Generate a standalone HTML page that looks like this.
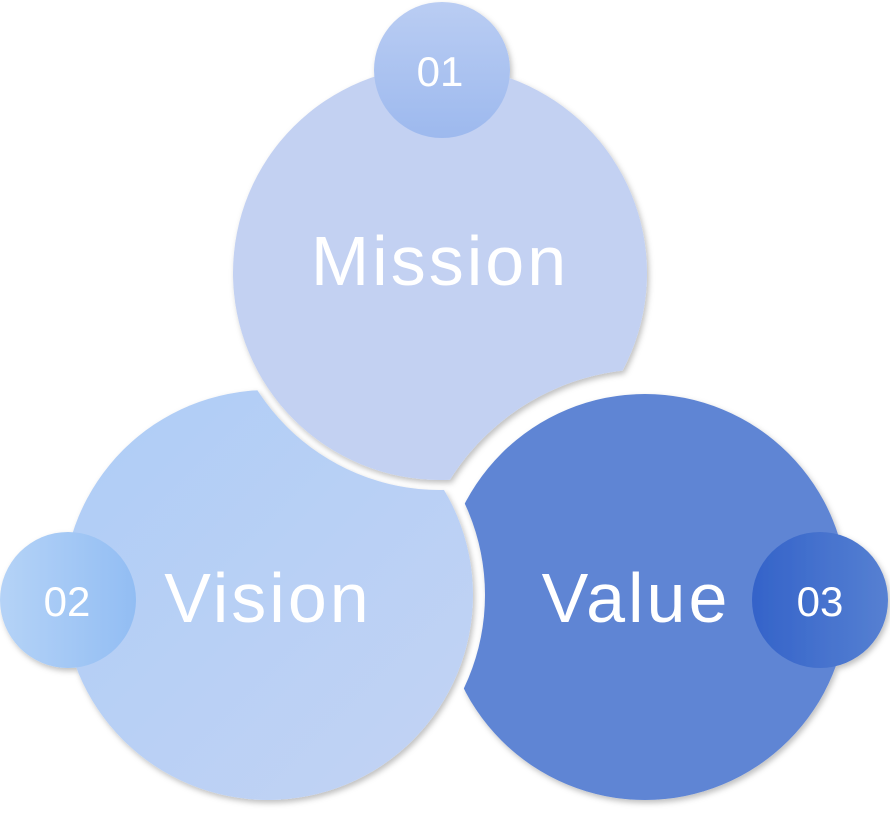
<!DOCTYPE html>
<html><head><meta charset="utf-8"><style>
html,body{margin:0;padding:0;background:#fff;width:890px;height:816px;overflow:hidden}
svg{display:block}
text{font-family:"Liberation Sans",sans-serif;fill:#fff}
</style></head><body>
<svg width="890" height="816" viewBox="0 0 890 816">
<defs>
<filter id="sh" x="-20%" y="-20%" width="140%" height="140%"><feDropShadow dx="2" dy="3" stdDeviation="3" flood-color="#000" flood-opacity="0.25"/></filter>
<linearGradient id="gv" x1="0" y1="0" x2="1" y2="1"><stop offset="0" stop-color="#aecdf6"/><stop offset="1" stop-color="#c3d3f4"/></linearGradient>
<linearGradient id="g2" x1="0" y1="0" x2="1" y2="0"><stop offset="0" stop-color="#b5d3f7"/><stop offset="1" stop-color="#92bdf3"/></linearGradient>
<linearGradient id="g1" x1="0" y1="0" x2="0" y2="1"><stop offset="0" stop-color="#bacdf3"/><stop offset="1" stop-color="#9db9ee"/></linearGradient>
<linearGradient id="g3" x1="0" y1="0" x2="1" y2="0"><stop offset="0" stop-color="#3463c9"/><stop offset="1" stop-color="#5680d2"/></linearGradient>
<mask id="mM"><rect width="890" height="816" fill="#fff"/><circle cx="650" cy="605" r="236" fill="#000"/></mask>
<mask id="mV"><rect width="890" height="816" fill="#fff"/><circle cx="440" cy="273" r="217" fill="#000"/></mask>
<mask id="mL"><rect width="890" height="816" fill="#fff"/><circle cx="268" cy="595" r="217" fill="#000"/></mask>
</defs>
<g filter="url(#sh)">
<circle cx="440" cy="273" r="207" fill="#c3d1f2" mask="url(#mM)"/>
<circle cx="268" cy="595" r="205" fill="url(#gv)" mask="url(#mV)"/>
<circle cx="645" cy="597" r="203" fill="#5f85d4" mask="url(#mL)"/>
<circle cx="442" cy="70" r="68" fill="url(#g1)"/>
<circle cx="68" cy="600" r="68" fill="url(#g2)"/>
<circle cx="820" cy="600" r="68" fill="url(#g3)"/>
</g>
<text x="440" y="285" font-size="70" letter-spacing="3" text-anchor="middle">Mission</text>
<text x="268" y="622" font-size="70" letter-spacing="3" text-anchor="middle">Vision</text>
<text x="636" y="622" font-size="70" letter-spacing="3" text-anchor="middle">Value</text>
<text x="440" y="86" font-size="42" text-anchor="middle">01</text>
<text x="67" y="616" font-size="42" text-anchor="middle">02</text>
<text x="820" y="616" font-size="42" text-anchor="middle">03</text>
</svg>
</body></html>
